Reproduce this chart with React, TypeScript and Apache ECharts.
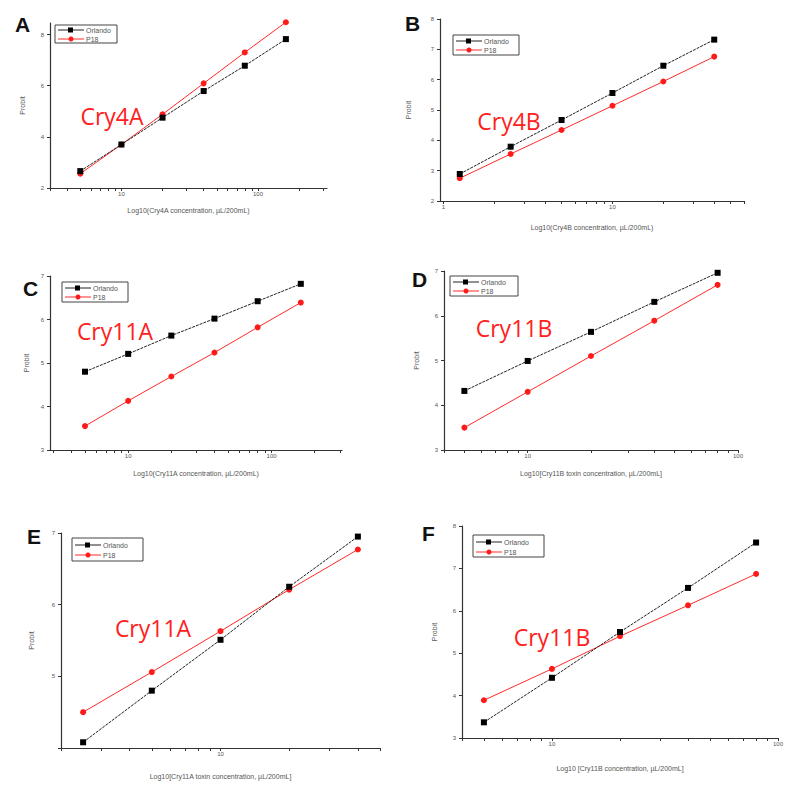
import React, { useEffect, useRef } from "react";
import * as echarts from "echarts";

const seriesNames = ["Orlando", "P18"];
const panelLetters = ["A", "B", "C", "D", "E", "F"];
const toxinNames = ["Cry4A", "Cry4B", "Cry11A", "Cry11B", "Cry11A", "Cry11B"];
const xAxisTitles = [
  "Log10(Cry4A concentration, µL/200mL)",
  "Log10(Cry4B concentration, µL/200mL)",
  "Log10(Cry11A concentration, µL/200mL)",
  "Log10[Cry11B toxin concentration, µL/200mL]",
  "Log10[Cry11A toxin concentration, µL/200mL]",
  "Log10 [Cry11B concentration, µL/200mL]",
];
const yAxisTitle = "Probit";

// concentrations
const xA = [5, 10, 20, 40, 80, 160];
const xB = [1.25, 2.5, 5, 10, 20, 40];
const xC = [5, 10, 20, 40, 80, 160];
const xD = [5, 10, 20, 40, 80];
const xE = [2.5, 5, 10, 20, 40];
const xF = [5, 10, 20, 40, 80];

// probit values
const orlandoA = [2.66, 3.7, 4.75, 5.79, 6.78, 7.82];
const p18A = [2.56, 3.7, 4.88, 6.09, 7.3, 8.48];
const orlandoB = [2.89, 3.79, 4.67, 5.56, 6.46, 7.32];
const p18B = [2.75, 3.55, 4.34, 5.14, 5.94, 6.76];
const orlandoC = [4.8, 5.21, 5.63, 6.02, 6.42, 6.82];
const p18C = [3.55, 4.13, 4.69, 5.24, 5.82, 6.39];
const orlandoD = [4.32, 4.99, 5.64, 6.31, 6.96];
const p18D = [3.5, 4.3, 5.1, 5.89, 6.69];
const orlandoE = [4.08, 4.8, 5.51, 6.25, 6.95];
const p18E = [4.5, 5.06, 5.63, 6.21, 6.77];
const orlandoF = [3.37, 4.42, 5.5, 6.54, 7.61];
const p18F = [3.89, 4.63, 5.4, 6.13, 6.87];

// tick labels
const xLabelsA = [10, 100];
const xLabelsB = [1, 10];
const xLabelsC = [10, 100];
const xLabelsD = [10, 100];
const xLabelsE = [10];
const xLabelsF = [10, 100];
const yLabelsA = [2, 4, 6, 8];
const yLabelsB = [2, 3, 4, 5, 6, 7, 8];
const yLabelsC = [3, 4, 5, 6, 7];
const yLabelsD = [3, 4, 5, 6, 7];
const yLabelsE = [5, 6, 7];
const yTicksE = [4, 5, 6, 7];
const yLabelsF = [3, 4, 5, 6, 7, 8];

const panels = [
  { x: xA, o: orlandoA, p: p18A, xl: xLabelsA, yl: yLabelsA, yt: yLabelsA,
    grid: { left: 50, top: 23, width: 277, height: 165 }, xr: [3, 320], yr: [2, 8.45],
    letter: [15, 25], cry: [112, 116], leg: [55, 25, 62, 18], xGap: 19, yGap: 24 },
  { x: xB, o: orlandoB, p: p18B, xl: xLabelsB, yl: yLabelsB, yt: yLabelsB,
    grid: { left: 440, top: 19, width: 304, height: 182 }, xr: [0.955, 60], yr: [2, 8],
    letter: [405, 24], cry: [509, 121], leg: [453, 35, 66, 20], xGap: 23, yGap: 28 },
  { x: xC, o: orlandoC, p: p18C, xl: xLabelsC, yl: yLabelsC, yt: yLabelsC,
    grid: { left: 50, top: 276, width: 292, height: 174 }, xr: [2.85, 310], yr: [3, 7],
    letter: [23, 289], cry: [115, 331], leg: [62, 282, 66, 20], xGap: 20, yGap: 20 },
  { x: xD, o: orlandoD, p: p18D, xl: xLabelsD, yl: yLabelsD, yt: yLabelsD,
    grid: { left: 444, top: 271, width: 294, height: 179 }, xr: [4, 100], yr: [3, 7],
    letter: [412, 280], cry: [514, 328], leg: [450, 276, 68, 20], xGap: 20, yGap: 24 },
  { x: xE, o: orlandoE, p: p18E, xl: xLabelsE, yl: yLabelsE, yt: yTicksE,
    grid: { left: 61, top: 533, width: 319, height: 215 }, xr: [2, 50], yr: [4, 7],
    letter: [27, 537], cry: [153, 628], leg: [72, 538, 71, 23], xGap: 25, yGap: 26 },
  { x: xF, o: orlandoF, p: p18F, xl: xLabelsF, yl: yLabelsF, yt: yLabelsF,
    grid: { left: 462, top: 526, width: 316, height: 212 }, xr: [4, 100], yr: [3, 8],
    letter: [422, 534], cry: [552, 637], leg: [473, 535, 71, 22], xGap: 27, yGap: 24 },
];

function logTicks(min: number, max: number): number[] {
  const out: number[] = [];
  for (let e = -1; e <= 3; e++) {
    for (let m = 1; m <= 9; m++) {
      const v = m * Math.pow(10, e);
      if (v >= min * 0.999 && v <= max * 1.001) out.push(v);
    }
  }
  return out;
}

const AXIS_COLOR = "#333";
const TEXT_COLOR = "#555";
const FONT = "Liberation Sans, Arial, sans-serif";

function buildOption() {
  const grid: any[] = [];
  const xAxis: any[] = [];
  const yAxis: any[] = [];
  const series: any[] = [];
  const graphic: any[] = [];

  panels.forEach((pn, i) => {
    grid.push({ ...pn.grid, containLabel: false });
    xAxis.push({
      type: "log",
      logBase: 10,
      gridIndex: i,
      min: pn.xr[0],
      max: pn.xr[1],
      splitLine: { show: false },
      axisLine: { show: true, lineStyle: { color: AXIS_COLOR, width: 1.2 } },
      axisTick: { show: true, length: 3, customValues: logTicks(pn.xr[0], pn.xr[1]), lineStyle: { color: AXIS_COLOR } },
      axisLabel: { customValues: pn.xl, fontSize: 6, color: TEXT_COLOR, margin: 3, fontFamily: FONT },
      name: xAxisTitles[i],
      nameLocation: "middle",
      nameGap: pn.xGap,
      nameTextStyle: { fontSize: 7, color: TEXT_COLOR, fontFamily: FONT },
    });
    yAxis.push({
      type: "value",
      gridIndex: i,
      min: pn.yr[0],
      max: pn.yr[1],
      splitLine: { show: false },
      axisLine: { show: true, lineStyle: { color: AXIS_COLOR, width: 1.2 } },
      axisTick: { show: true, length: 3, customValues: pn.yt, lineStyle: { color: AXIS_COLOR } },
      axisLabel: { customValues: pn.yl, fontSize: 6, color: TEXT_COLOR, margin: 6, fontFamily: FONT },
      name: yAxisTitle,
      nameLocation: "middle",
      nameGap: pn.yGap,
      nameRotate: 90,
      nameTextStyle: { fontSize: 7, color: TEXT_COLOR, fontFamily: FONT },
    });
    series.push({
      name: seriesNames[0],
      type: "line",
      xAxisIndex: i,
      yAxisIndex: i,
      clip: false,
      data: pn.x.map((v, k) => [v, pn.o[k]]),
      symbol: "rect",
      symbolSize: 6,
      lineStyle: { color: "#222", width: 1, type: [3, 1] },
      itemStyle: { color: "#000" },
      z: 3,
    });
    series.push({
      name: seriesNames[1],
      type: "line",
      xAxisIndex: i,
      yAxisIndex: i,
      clip: false,
      data: pn.x.map((v, k) => [v, pn.p[k]]),
      symbol: "circle",
      symbolSize: 6,
      lineStyle: { color: "#ff2a2a", width: 1 },
      itemStyle: { color: "#ff1a1a" },
      z: 2,
    });

    graphic.push({
      type: "text",
      left: pn.letter[0],
      top: pn.letter[1] - 11,
      style: { text: panelLetters[i], font: "bold 21px " + FONT, fill: "#111" },
    });
    graphic.push({
      type: "text",
      x: pn.cry[0],
      y: pn.cry[1],
      style: {
        text: toxinNames[i],
        font: "23px 'Open Sans', sans-serif",
        fill: "#ff2020",
        textAlign: "center",
        textVerticalAlign: "middle",
      },
    });
    const [lx, ly, lw, lh] = pn.leg;
    const r1 = Math.round(lh * 0.3);
    const r2 = Math.round(lh * 0.75);
    graphic.push({
      type: "group",
      x: lx,
      y: ly,
      children: [
        { type: "rect", shape: { x: 0, y: 0, width: lw, height: lh }, style: { fill: "#fff", stroke: "#444", lineWidth: 1 } },
        { type: "line", shape: { x1: 3, y1: r1, x2: 29, y2: r1 }, style: { stroke: "#222", lineWidth: 1 } },
        { type: "rect", shape: { x: 13, y: r1 - 2.5, width: 5, height: 5 }, style: { fill: "#000" } },
        { type: "text", x: 31, y: r1, style: { text: seriesNames[0], font: "7px " + FONT, fill: TEXT_COLOR, textVerticalAlign: "middle" } },
        { type: "line", shape: { x1: 3, y1: r2, x2: 29, y2: r2 }, style: { stroke: "#ff2a2a", lineWidth: 1 } },
        { type: "circle", shape: { cx: 16, cy: r2, r: 2.5 }, style: { fill: "#ff1a1a" } },
        { type: "text", x: 31, y: r2, style: { text: seriesNames[1], font: "7px " + FONT, fill: TEXT_COLOR, textVerticalAlign: "middle" } },
      ],
    });
  });

  return {
    animation: false,
    backgroundColor: "#fff",
    grid,
    xAxis,
    yAxis,
    series,
    graphic,
  };
}

export default function App() {
  const ref = useRef<HTMLDivElement>(null);
  useEffect(() => {
    if (!ref.current) return;
    const chart = echarts.init(ref.current, undefined, { renderer: "svg" });
    chart.setOption(buildOption() as any);
    return () => chart.dispose();
  }, []);
  return (
    <div
      ref={ref}
      style={{ position: "absolute", left: 0, top: 0, width: 800, height: 793, background: "#fff" }}
    />
  );
}
